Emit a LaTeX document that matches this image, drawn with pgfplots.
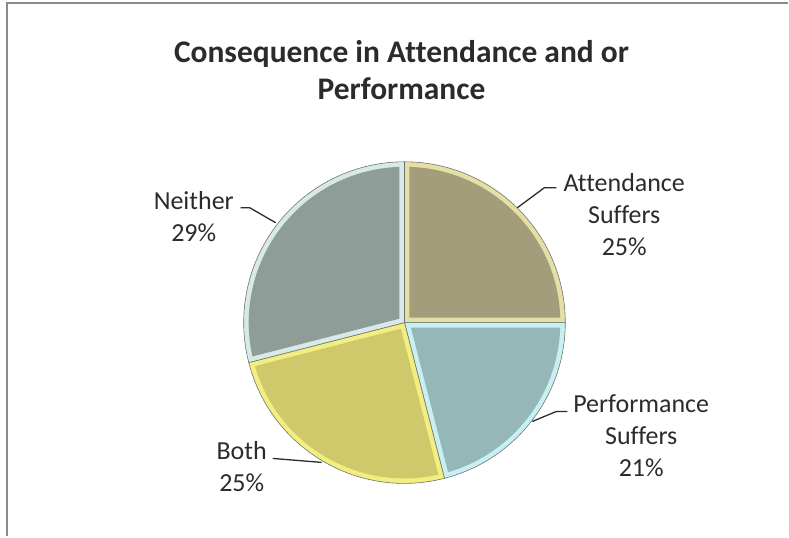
\documentclass[border=0pt]{standalone}
\usepackage{fontspec}
\setmainfont{Carlito}[Ligatures={NoCommon}]
\usepackage{pgfplots}
\pgfplotsset{compat=1.18}
\definecolor{attM}{HTML}{A39D7C}
\definecolor{attB}{HTML}{E3DFA5}
\definecolor{perM}{HTML}{95B7B7}
\definecolor{perB}{HTML}{C8F0F2}
\definecolor{botM}{HTML}{D0C96B}
\definecolor{botB}{HTML}{F2EE80}
\definecolor{neiM}{HTML}{8E9D98}
\definecolor{neiB}{HTML}{D8EAE8}
\definecolor{txt}{HTML}{2B2B2B}
\definecolor{frame}{HTML}{8C8C8C}
\begin{document}
\begin{tikzpicture}
\begin{axis}[scale only axis, width=789pt, height=537pt,
  xmin=-405, xmax=384, ymin=-214, ymax=323,
  hide axis, clip=false]
% bounding area and frame
\path (axis cs:-405,-214) rectangle (axis cs:384,323);
\draw[frame, line width=2pt] (axis cs:-398,-214) -- (axis cs:-398,319.5) -- (axis cs:384,319.5);
% Slices: values 25, 21, 25, 29 (%) -> angles clockwise from 90 deg
% Attendance Suffers 25%: 90 -> 0
\addplot[data cs=polar, fill=attB, draw=black!55, line width=0.6pt] coordinates {(0,0) (90,161)} arc[start angle=90, end angle=0, radius=161pt] -- cycle;
\addplot[data cs=polar, fill=attM, draw=none] coordinates {(45,7.07) (88.16,156)} arc[start angle=88.16, end angle=1.84, radius=156pt] -- cycle;
% Performance Suffers 21%: 0 -> -75.6
\addplot[data cs=polar, fill=perB, draw=black!55, line width=0.6pt] coordinates {(0,0) (0,161)} arc[start angle=0, end angle=-75.6, radius=161pt] -- cycle;
\addplot[data cs=polar, fill=perM, draw=none] coordinates {(-37.8,8.16) (-1.84,156)} arc[start angle=-1.84, end angle=-73.76, radius=156pt] -- cycle;
% Both 25%: -75.6 -> -165.6
\addplot[data cs=polar, fill=botB, draw=black!55, line width=0.6pt] coordinates {(0,0) (-75.6,161)} arc[start angle=-75.6, end angle=-165.6, radius=161pt] -- cycle;
\addplot[data cs=polar, fill=botM, draw=none] coordinates {(-120.6,7.07) (-77.44,156)} arc[start angle=-77.44, end angle=-163.76, radius=156pt] -- cycle;
% Neither 29%: -165.6 -> -270
\addplot[data cs=polar, fill=neiB, draw=black!55, line width=0.6pt] coordinates {(0,0) (-165.6,161)} arc[start angle=-165.6, end angle=-270, radius=161pt] -- cycle;
\addplot[data cs=polar, fill=neiM, draw=none] coordinates {(-217.8,6.33) (-167.44,156)} arc[start angle=-167.44, end angle=-268.16, radius=156pt] -- cycle;
% leader lines
\draw[txt, line width=1.3pt] (axis cs:152,135) -- (axis cs:140,135) -- (axis cs:113,115);
\draw[txt, line width=1.3pt] (axis cs:163,-89) -- (axis cs:152,-89) -- (axis cs:128,-99);
\draw[txt, line width=1.3pt] (axis cs:-132,-136) -- (axis cs:-83,-140);
\draw[txt, line width=1.3pt] (axis cs:-164,115) -- (axis cs:-155,115) -- (axis cs:-129,100);
% labels
\node[txt, align=center, font=\fontsize{26}{32}\selectfont] at (axis cs:220,108) {Attendance\\Suffers\\25\%};
\node[txt, align=center, font=\fontsize{26}{32}\selectfont] at (axis cs:237,-113) {Performance\\Suffers\\21\%};
\node[txt, align=center, font=\fontsize{26}{32}\selectfont] at (axis cs:-163,-144.5) {Both\\25\%};
\node[txt, align=center, font=\fontsize{26}{32}\selectfont] at (axis cs:-211,106) {Neither\\29\%};
% title
\node[txt, align=center, font=\fontsize{31.5}{37}\selectfont\bfseries] at (axis cs:-3,253) {Consequence in Attendance and or\\Performance};
\end{axis}
\end{tikzpicture}
\end{document}
